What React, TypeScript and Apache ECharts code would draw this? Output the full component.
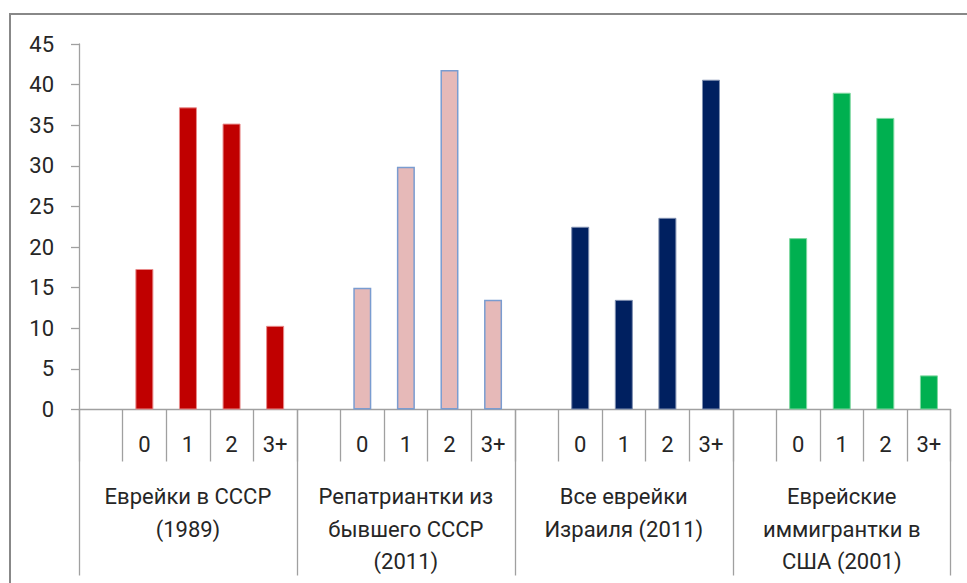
import React, { useEffect, useRef } from "react";
import * as echarts from "echarts";

const groupLabels = [
  "Еврейки в СССР\n(1989)",
  "Репатриантки из\nбывшего СССР\n(2011)",
  "Все еврейки\nИзраиля (2011)",
  "Еврейские\nиммигрантки в\nСША (2001)",
];
const childLabels = ["", "0", "1", "2", "3+"];
const yTicks = { min: 0, max: 45, interval: 5 };

const ussr1989 = [17.3, 37.2, 35.2, 10.3];
const repatriants2011 = [15.0, 29.9, 41.8, 13.5];
const israel2011 = [22.5, 13.5, 23.6, 40.6];
const usa2001 = [21.1, 39.0, 35.9, 4.2];

const seriesValues = [ussr1989, repatriants2011, israel2011, usa2001];
const seriesColors = ["#C00000", "#E6B9B8", "#002060", "#00B050"];
const seriesBorders = ["#E88A8A", "#7A9CD0", "#7F8FB0", "#7FD8A0"];
const seriesBorderWidths = [1, 1.5, 1, 1];

const FONT = "Roboto, 'Liberation Sans', sans-serif";
const TEXT = "#262626";
const LINE = "#a0a0a0";

export default function App() {
  const ref = useRef<HTMLDivElement>(null);
  useEffect(() => {
    if (!ref.current) return;
    const chart = echarts.init(ref.current, undefined, { renderer: "svg" });
    const categories: string[] = [];
    groupLabels.forEach((g, gi) => {
      childLabels.forEach((c) => categories.push(gi + "|" + c));
    });
    const series = seriesValues.map((vals, gi) => {
      const data: (number | null)[] = categories.map(() => null);
      vals.forEach((v, k) => {
        data[gi * childLabels.length + 1 + k] = v;
      });
      return {
        type: "bar",
        xAxisIndex: 0,
        yAxisIndex: 0,
        data,
        barWidth: 18,
        barGap: "-100%",
        itemStyle: {
          color: seriesColors[gi],
          borderColor: seriesBorders[gi],
          borderWidth: seriesBorderWidths[gi],
        },
      };
    });
    chart.setOption({
      animation: false,
      textStyle: { fontFamily: FONT },
      grid: { left: 79, right: 16.3, top: 44, bottom: 173.5, containLabel: false },
      graphic: [
        {
          type: "rect",
          shape: { x: 10, y: 14, width: 1200, height: 1000 },
          style: { fill: "none", stroke: "#888888", lineWidth: 2 },
          silent: true,
        },
      ],
      xAxis: [
        {
          type: "category",
          data: categories,
          position: "bottom",
          axisLine: { show: true, lineStyle: { color: LINE, width: 1.3 } },
          axisTick: { show: true, length: 52, lineStyle: { color: LINE, width: 1.3 } },
          axisLabel: {
            interval: 0,
            margin: 24,
            fontSize: 22,
            lineHeight: 22,
            color: TEXT,
            fontFamily: FONT,
            formatter: (v: string) => v.split("|")[1],
          },
          splitLine: { show: false },
        },
        {
          type: "category",
          data: groupLabels,
          position: "bottom",
          axisLine: { show: false },
          axisTick: { show: true, length: 166, lineStyle: { color: LINE, width: 1.3 } },
          axisLabel: {
            interval: 0,
            margin: 71,
            fontSize: 22,
            lineHeight: 32.5,
            color: TEXT,
            fontFamily: FONT,
          },
          splitLine: { show: false },
        },
      ],
      yAxis: {
        type: "value",
        min: yTicks.min,
        max: yTicks.max,
        interval: yTicks.interval,
        axisLine: { show: true, lineStyle: { color: LINE, width: 1.3 } },
        axisTick: { show: true, length: 8, inside: false, lineStyle: { color: LINE, width: 1.3 } },
        axisLabel: { margin: 25, fontSize: 22, color: TEXT, fontFamily: FONT },
        splitLine: { show: false },
      },
      series,
    });
    return () => chart.dispose();
  }, []);
  return (
    <div
      ref={ref}
      style={{ position: "fixed", left: 0, top: 0, width: 967, height: 583, background: "#fff" }}
    />
  );
}
